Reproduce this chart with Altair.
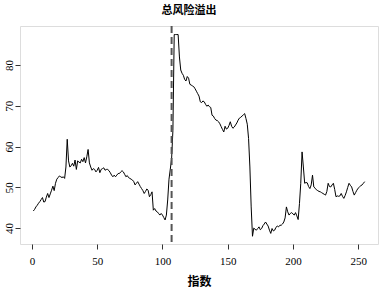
import altair as alt
import pandas as pd

values = [
    44.2, 44.6, 45.2, 45.6, 46.1, 46.5, 47.0, 47.5, 46.4, 46.5,
    47.6, 48.5, 47.5, 48.4, 49.3, 50.3, 49.2, 51.0, 52.0, 52.4,
    52.8, 52.6, 52.4, 52.6, 52.2, 55.0, 61.8, 56.5, 55.0, 55.3,
    55.9, 55.2, 56.7, 54.4, 56.5, 56.2, 56.0, 56.9, 56.3, 57.3,
    56.0, 57.5, 59.3, 56.0, 55.0, 54.2, 54.6, 54.4, 53.8, 54.2,
    54.9, 53.6, 54.4, 54.6, 54.8, 54.2, 54.4, 54.4, 54.1, 53.6,
    53.0, 52.6, 53.0, 52.6, 53.0, 53.4, 53.4, 53.8, 54.1, 53.8,
    53.2, 52.6, 52.9, 52.4, 52.2, 52.0, 51.8, 51.4, 50.6, 51.0,
    51.4, 50.8, 50.2, 49.7, 49.2, 48.5, 49.0, 49.6, 49.3, 47.7,
    48.2, 48.9, 44.4, 44.8, 44.2, 44.0, 43.6, 43.2, 43.6, 43.2,
    42.6, 42.0, 43.2, 46.9, 52.0, 54.5, 57.0, 64.0, 87.5, 87.5,
    87.5, 87.5, 82.0, 78.8, 78.0, 77.5, 76.5, 76.1, 77.2, 76.8,
    75.3, 75.1, 74.9, 74.7, 74.2, 73.6, 73.0, 72.4, 71.0, 70.8,
    71.2, 71.0, 70.4, 69.9, 70.2, 69.8, 69.6, 67.7, 67.5, 66.9,
    66.5, 66.4, 66.1, 65.6, 64.9, 64.2, 63.6, 65.0, 64.3, 64.5,
    65.2, 66.1, 65.0, 64.5, 64.8, 65.3, 65.8, 66.5, 67.0, 67.2,
    67.5, 67.8, 68.1, 66.9, 65.5, 62.0, 55.0, 45.2, 38.0, 40.0,
    39.7, 39.5, 39.9, 40.3, 39.6, 39.9, 40.6, 41.0, 41.5, 41.0,
    40.5, 39.5, 38.7, 39.9, 39.3, 39.5, 40.2, 40.5, 40.3, 40.7,
    40.7, 41.0, 41.5, 42.5, 45.2, 44.0, 43.2, 43.6, 43.8, 43.5,
    43.2, 43.8, 43.0, 42.1, 46.0, 51.0, 58.7, 55.0, 51.0, 51.2,
    51.1, 50.2, 49.7, 50.6, 53.0, 50.1, 49.8, 49.4, 49.2, 49.0,
    48.9, 48.7, 48.5, 48.3, 48.1, 49.0, 51.0, 50.2, 50.1, 50.6,
    51.0, 49.5, 47.7, 47.9, 47.8, 47.9, 48.5, 47.8, 47.3, 48.0,
    48.9, 50.0, 51.0, 50.5, 50.1, 49.0, 48.1, 48.7, 49.3, 49.8,
    50.1, 50.4, 50.6, 51.0, 51.4,
]
index = list(range(1, len(values) + 1))
event_index = [107]
x_ticks = [0, 50, 100, 150, 200, 250]
y_ticks = [40, 50, 60, 70, 80]

df = pd.DataFrame({"指数": index, "value": values})
ev = pd.DataFrame({"x": event_index})

x_scale = alt.Scale(domain=[-9.2, 265.2], nice=False, zero=False)
y_scale = alt.Scale(domain=[36.1, 89.6], nice=False, zero=False)

serif = "Liberation Serif"
cjk = "Noto Sans CJK SC"

line = alt.Chart(df).mark_line(color="black", strokeWidth=1.0, clip=True).encode(
    x=alt.X("指数:Q", scale=x_scale,
            axis=alt.Axis(values=x_ticks, title="指数", grid=False, domain=False,
                          tickSize=5, tickColor="#333", labelFont=serif, labelFontSize=11,
                          labelColor="black", labelPadding=6, titleFont=cjk,
                          titleFontSize=12, titleFontWeight="bold", titleColor="black",
                          titlePadding=10)),
    y=alt.Y("value:Q", scale=y_scale,
            axis=alt.Axis(values=y_ticks, title=None, grid=False, domain=False,
                          tickSize=5, tickColor="#333", labelFont=serif, labelFontSize=11,
                          labelColor="black", labelAngle=270, labelAlign="center",
                          labelBaseline="bottom", labelPadding=1)),
)

vline = alt.Chart(ev).mark_rule(color="#555", strokeWidth=2, strokeDash=[7, 4]).encode(
    x=alt.X("x:Q", scale=x_scale)
)

chart = (
    alt.layer(line, vline)
    .properties(
        width=358,
        height=218,
        autosize=alt.AutoSizeParams(type="none"),
        padding={"left": 20, "top": 26, "right": 1, "bottom": 44},
        title=alt.TitleParams("总风险溢出", font=cjk, fontSize=11, fontWeight="bold",
                              color="black", anchor="middle", offset=9, dx=-10),
    )
    .configure_view(stroke="#333", strokeWidth=1)
    .configure(background="white")
)

chart.save("out.html", embed_options={"renderer": "svg", "actions": False})
